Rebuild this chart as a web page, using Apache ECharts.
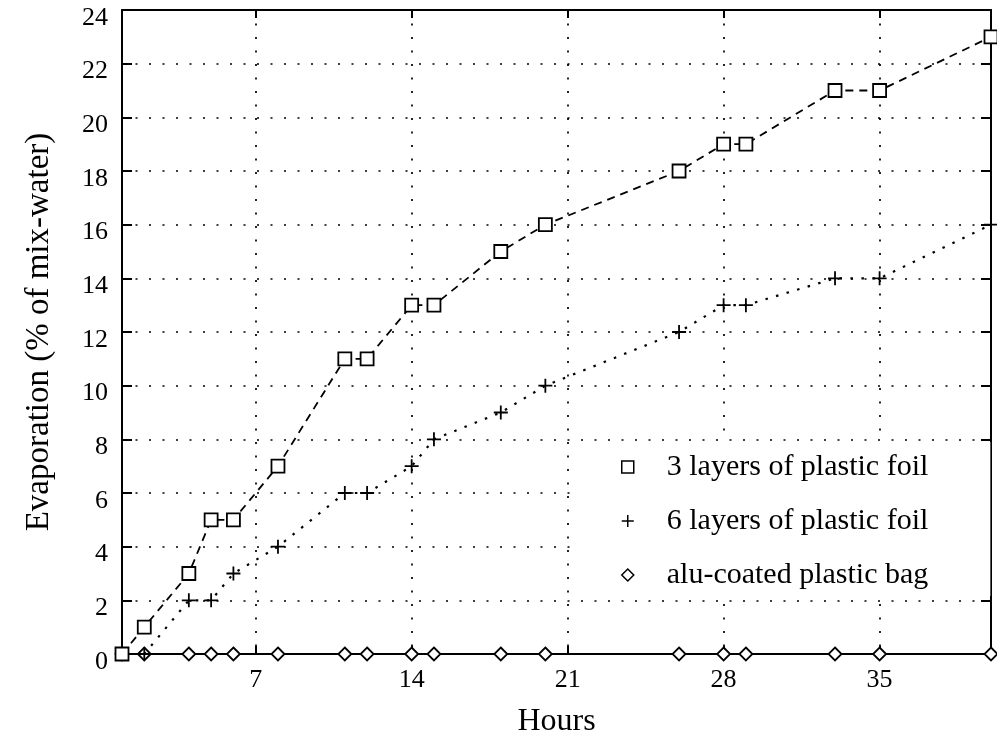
<!DOCTYPE html>
<html>
<head>
<meta charset="utf-8">
<script src="https://cdn.jsdelivr.net/npm/echarts@6/dist/echarts.min.js"></script>
<style>
  html, body { margin: 0; padding: 0; background: #fff; }
  #chart { width: 997px; height: 743px; }
</style>
</head>
<body>
<div id="chart"></div>
<script>
// Sampling times (hours) shared by all three curing covers
const hours = [1, 2, 4, 5, 6, 8, 11, 12, 14, 15, 18, 20, 26, 28, 29, 33, 35, 40];
// Evaporation, % of mix-water
const threeLayers = [0, 1, 3, 5, 5, 7, 11, 11, 13, 13, 15, 16, 18, 19, 19, 21, 21, 23];
const sixLayers   = [0, 0, 2, 2, 3, 4, 6, 6, 7, 8, 9, 10, 12, 13, 13, 14, 14, 16];
const aluBag      = [0, 0, 0, 0, 0, 0, 0, 0, 0, 0, 0, 0, 0, 0, 0, 0, 0, 0];
// Axis tick labels
const xTicks = [7, 14, 21, 28, 35];
const yTicks = [0, 2, 4, 6, 8, 10, 12, 14, 16, 18, 20, 22, 24];

const seriesNames = ['3 layers of plastic foil', '6 layers of plastic foil', 'alu-coated plastic bag'];

const SERIF = '"Liberation Serif", "Times New Roman", serif';
const pairs = (ys) => hours.map((h, i) => [h, ys[i]]);

const squarePath  = 'path://M0,0H10V10H0Z';
const plusPath    = 'path://M5,0V10M0,5H10';
const diamondPath = 'path://M5,0L10,5L5,10L0,5Z';

const dotted = { color: '#000', width: 1.7, type: [2, 11.5] };

const chart = echarts.init(document.getElementById('chart'), null, { renderer: 'canvas' });

chart.setOption({
  backgroundColor: '#fff',
  animation: false,
  grid: { left: 122, right: 6, top: 10, bottom: 89, containLabel: false },
  xAxis: [
    {
      type: 'value', position: 'bottom', min: 1, max: 40,
      name: 'Hours', nameLocation: 'middle', nameGap: 52, nameMoveOverlap: false,
      nameTextStyle: { fontFamily: SERIF, fontSize: 32, color: '#000' },
      axisLine: { show: true, onZero: false, lineStyle: { color: '#000', width: 2 } },
      axisTick: { show: true, inside: true, length: 8, customValues: xTicks, lineStyle: { color: '#000', width: 2 } },
      axisLabel: { customValues: xTicks, margin: 13, fontFamily: SERIF, fontSize: 26, color: '#000' },
      splitLine: { show: true, lineStyle: dotted }
    },
    {
      type: 'value', position: 'top', min: 1, max: 40,
      axisLine: { show: true, onZero: false, lineStyle: { color: '#000', width: 2 } },
      axisTick: { show: true, inside: true, length: 8, customValues: xTicks, lineStyle: { color: '#000', width: 2 } },
      axisLabel: { show: false },
      splitLine: { show: false }
    }
  ],
  yAxis: [
    {
      type: 'value', position: 'left', min: 0, max: 24, interval: 2,
      name: 'Evaporation (% of mix-water)', nameLocation: 'middle', nameGap: 66, nameMoveOverlap: false,
      nameTextStyle: { fontFamily: SERIF, fontSize: 33, color: '#000' },
      axisLine: { show: true, onZero: false, lineStyle: { color: '#000', width: 2 } },
      axisTick: { show: true, inside: true, length: 10, lineStyle: { color: '#000', width: 2 } },
      axisLabel: {
        margin: 14, fontFamily: SERIF, fontSize: 26, color: '#000',
        verticalAlign: 'top', lineHeight: 16,
        formatter: (v) => (yTicks.indexOf(v) >= 0 ? String(v) : '')
      },
      splitLine: { show: true, lineStyle: dotted }
    },
    {
      type: 'value', position: 'right', min: 0, max: 24, interval: 2,
      axisLine: { show: true, onZero: false, lineStyle: { color: '#000', width: 2 } },
      axisTick: { show: true, inside: true, length: 10, lineStyle: { color: '#000', width: 2 } },
      axisLabel: { show: false },
      splitLine: { show: false }
    }
  ],
  legend: {
    orient: 'vertical',
    left: 580, top: 442,
    padding: [10, 62, 6, 41],
    backgroundColor: '#fff',
    itemWidth: 68, itemHeight: 12, itemGap: 24,
    symbolKeepAspect: true,
    textStyle: { fontFamily: SERIF, fontSize: 30, color: '#000', lineHeight: 30 },
    data: [
      { name: seriesNames[0], icon: squarePath,  itemStyle: { color: '#fff', borderColor: '#000', borderWidth: 1.5 } },
      { name: seriesNames[1], icon: plusPath,    itemStyle: { color: '#fff', borderColor: '#000', borderWidth: 1.5 } },
      { name: seriesNames[2], icon: diamondPath, itemStyle: { color: '#fff', borderColor: '#000', borderWidth: 1.5 } }
    ]
  },
  series: [
    {
      name: seriesNames[2], type: 'line', xAxisIndex: 0, yAxisIndex: 0,
      data: pairs(aluBag), clip: false,
      symbol: diamondPath, symbolSize: 13, showAllSymbol: true,
      itemStyle: { color: '#fff', borderColor: '#000', borderWidth: 1.8 },
      lineStyle: { color: '#000', width: 2 },
      z: 3
    },
    {
      name: seriesNames[1], type: 'line', xAxisIndex: 0, yAxisIndex: 0,
      data: pairs(sixLayers), clip: false,
      symbol: plusPath, symbolSize: 14, showAllSymbol: true,
      itemStyle: { color: '#000', borderColor: '#000', borderWidth: 1.8 },
      lineStyle: { color: '#000', width: 2.2, type: [2.5, 8.5] },
      z: 4
    },
    {
      name: seriesNames[0], type: 'line', xAxisIndex: 0, yAxisIndex: 0,
      data: pairs(threeLayers), clip: false,
      symbol: squarePath, symbolSize: 13, showAllSymbol: true,
      itemStyle: { color: '#fff', borderColor: '#000', borderWidth: 1.8 },
      lineStyle: { color: '#000', width: 1.8, type: [8, 6] },
      z: 5
    }
  ]
});
</script>
</body>
</html>
